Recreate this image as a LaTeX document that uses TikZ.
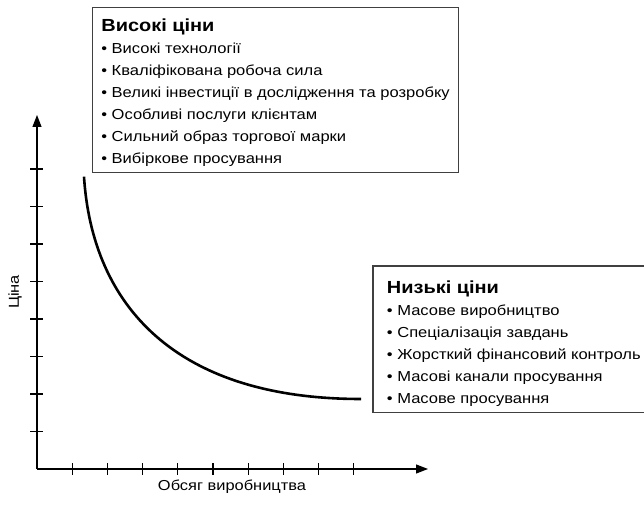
\documentclass[tikz,border=0pt]{standalone}
\usepackage{fontspec}
\setmainfont{Liberation Sans}[FakeStretch=1.14]
\usepackage{tkz-euclide}
\usetikzlibrary{arrows.meta}

\tikzset{
  axis/.style={line width=1.2pt, -{Triangle[length=12pt,width=9pt]}},
  tick/.style={line width=1.2pt},
  curve/.style={line width=2.6pt},
  pricebox/.style={draw=black!75, line width=1.3pt, anchor=north west, align=left,
    font=\fontsize{14.5}{22}\selectfont, inner ysep=6pt},
  axislabel/.style={font=\fontsize{14.4}{16}\selectfont}
}
\newcommand{\boxtitle}[2][18pt]{\rule{0pt}{#1}{\fontsize{17.5}{22}\selectfont\bfseries #2}}

\begin{document}
\begin{tikzpicture}[x=1pt,y=1pt]
                \useasboundingbox (0,0) rectangle (644,505);
                \clip (0,0) rectangle (644,505);
                \tkzDefPoints{37/36/O,428/36/X,37/390/Y,84/328.3/A,361/106/B}
                \draw[axis] (O) -- (X);
                \draw[axis] (O) -- (Y);
                \foreach \k in {1,...,9} \draw[tick] ([shift={(35.2*\k,-6)}]O) -- ++(0,12);
                \foreach \k in {1,...,8} \draw[tick] ([shift={(-7,37.5*\k)}]O) -- ++(13,0);
                \draw[curve] (A) .. controls (92.3,199.4) and (175.4,106) .. (B);
                \node[pricebox, inner xsep=9pt] (high) at (91.7,498)
                    {\boxtitle{Високі ціни}\\
                     \textbullet\ Високі технології\\
                     \textbullet\ Кваліфікована робоча сила\\
                     \textbullet\ Великі інвестиції в дослідження та розробку\\
                     \textbullet\ Особливі послуги клієнтам\\
                     \textbullet\ Сильний образ торгової марки\\
                     \textbullet\ Вибіркове просування};
                \node[pricebox, inner xsep=14pt] (low) at (372.3,239.5)
                    {\boxtitle[21pt]{Низькі ціни}\\
                     \textbullet\ Масове виробництво\\
                     \textbullet\ Спеціалізація завдань\\
                     \textbullet\ Жорсткий фінансовий контроль\\
                     \textbullet\ Масові канали просування\\
                     \textbullet\ Масове просування};
                \node[axislabel, rotate=90] (price) at (15,213) {Ціна};
                \node[axislabel] (volume) at (232,18) {Обсяг виробництва};
            \end{tikzpicture}
\end{document}
